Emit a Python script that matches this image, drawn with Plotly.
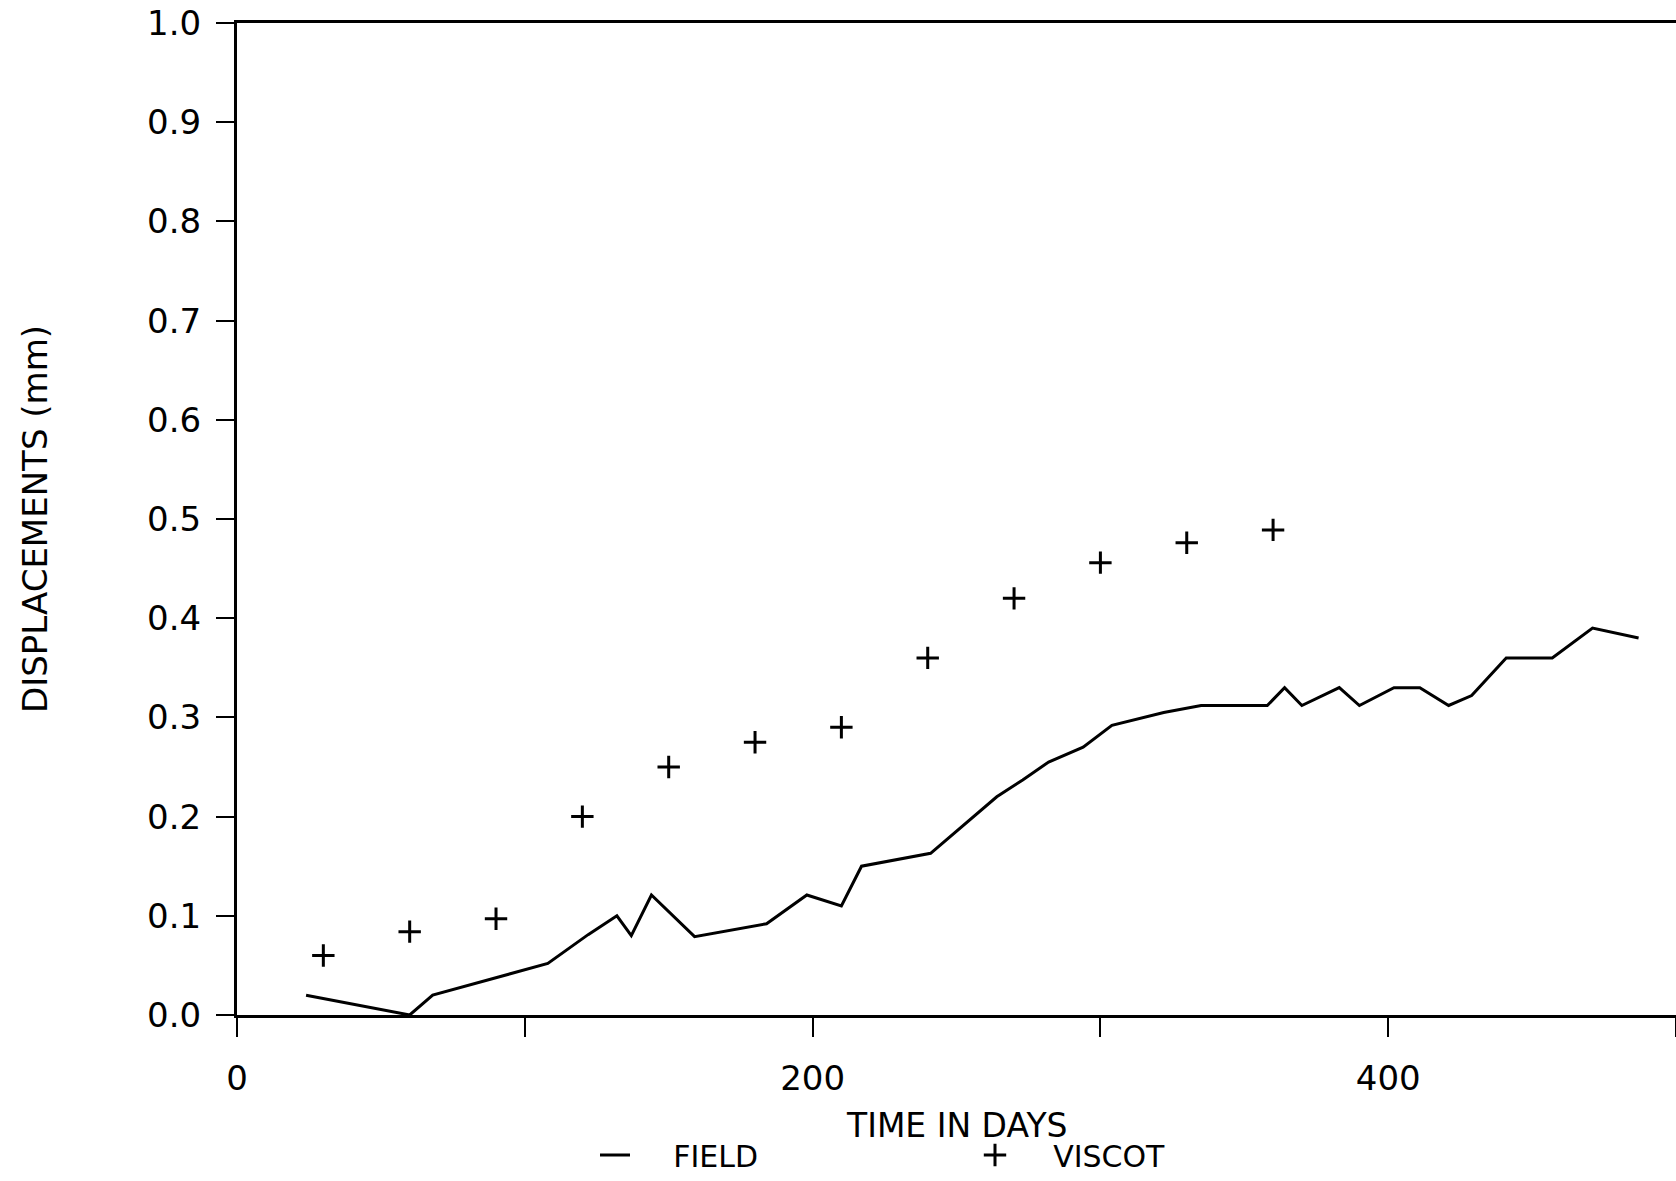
import plotly.graph_objects as go

# FIELD measurements (time in days, displacement in mm)
field_days = [24, 60, 68, 108, 122, 132, 137, 144, 159, 184, 198, 210, 217, 241,
              264, 273, 282, 294, 304, 322, 335, 358, 364, 370, 383, 390, 402, 411,
              421, 429, 441, 457, 471, 487]
field_disp = [0.02, 0.0, 0.02, 0.052, 0.081, 0.10, 0.08, 0.121, 0.079, 0.092, 0.121, 0.11, 0.15, 0.163,
              0.22, 0.237, 0.255, 0.27, 0.292, 0.305, 0.312, 0.312, 0.33, 0.312, 0.33, 0.312, 0.33, 0.33,
              0.312, 0.322, 0.36, 0.36, 0.39, 0.38]

# VISCOT model predictions
viscot_days = [30, 60, 90, 120, 150, 180, 210, 240, 270, 300, 330, 360]
viscot_disp = [0.06, 0.084, 0.097, 0.20, 0.25, 0.275, 0.29, 0.36, 0.42, 0.456, 0.476, 0.489]

x_tickvals = [0, 100, 200, 300, 400, 500]
x_ticktext = ["0", "", "200", "", "400", ""]
x_title = "TIME IN DAYS"
y_title = "DISPLACEMENTS (mm)"

FONT = "DejaVu Sans"
PAD = "\u00a0" * 4

fig = go.Figure()
fig.add_trace(go.Scatter(
    x=field_days, y=field_disp, mode="lines", name=PAD + "FIELD",
    line=dict(color="black", width=3),
))
fig.add_trace(go.Scatter(
    x=viscot_days, y=viscot_disp, mode="markers", name=PAD + "VISCOT",
    marker=dict(symbol="cross-thin", size=16, color="black",
                line=dict(color="black", width=3)),
))

fig.update_layout(
    width=1676, height=1181,
    margin=dict(l=237, r=0, t=23, b=166, autoexpand=False),
    paper_bgcolor="white", plot_bgcolor="white",
    font=dict(family=FONT, size=34, color="black"),
    showlegend=True,
    legend=dict(
        orientation="h", xref="container", yref="container",
        x=595 / 1676, xanchor="left", y=-0.009, yanchor="bottom",
        font=dict(family=FONT, size=30, color="black"),
        entrywidth=335, entrywidthmode="pixels",
        bgcolor="rgba(0,0,0,0)",
    ),
    annotations=[dict(
        text=x_title, xref="paper", yref="paper", x=0.5, y=-0.111,
        xanchor="center", yanchor="middle", showarrow=False,
        font=dict(family=FONT, size=33, color="black"),
    )],
)
fig.update_xaxes(
    range=[0, 500], tickvals=x_tickvals, ticktext=x_ticktext,
    ticks="outside", ticklen=19, tickwidth=2, tickcolor="black",
    showline=True, linecolor="black", linewidth=3, mirror=True,
    showgrid=False, zeroline=False, automargin=False,
    ticklabelstandoff=12,
)
fig.update_yaxes(
    range=[0, 1.0], dtick=0.1, tickformat=".1f",
    ticks="outside", ticklen=18, tickwidth=2, tickcolor="black",
    showline=True, linecolor="black", linewidth=3, mirror=False,
    showgrid=False, zeroline=False, automargin=False,
    ticklabelstandoff=8,
    title=dict(text=y_title, standoff=90, font=dict(family=FONT, size=34)),
)

fig.write_html("out.html")
